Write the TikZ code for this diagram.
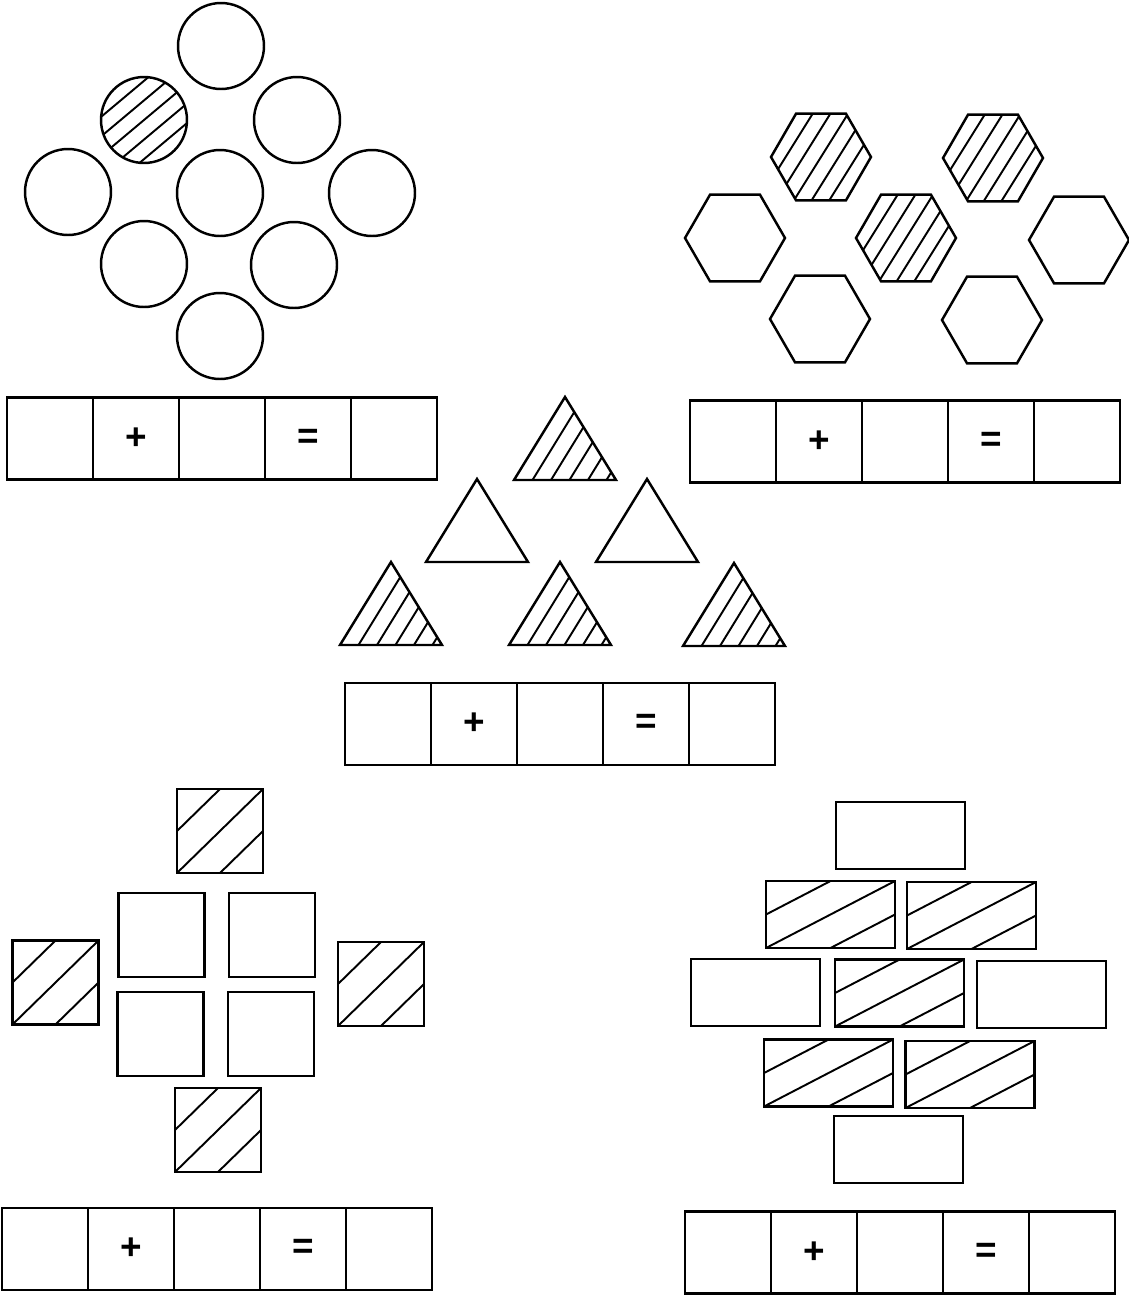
\documentclass[tikz,border=0pt]{standalone}
\usepackage{fontspec}
\setmainfont{Liberation Sans}
\usetikzlibrary{shapes.geometric}

% one answer row: name, left edge, middle height
\newcommand{\sumrow}[3]{%
  \foreach \k/\sym in {1/{},2/+,3/{},4/=,5/{}}
    \node[cell] (#1\k) at ({#2+(\k-0.5)*86},#3) {\sym};
}

\begin{document}
\begin{tikzpicture}[
  x=0.02cm, y=-0.02cm, line width=1.4pt,
  ring/.style={circle, draw, minimum size=1.72cm, inner sep=0pt},
  hexa/.style={regular polygon, regular polygon sides=6, draw, minimum size=2cm, inner sep=0pt},
  tile/.style={rectangle, draw, minimum width=1.72cm, minimum height=1.68cm, inner sep=0pt},
  brick/.style={rectangle, draw, minimum width=2.58cm, minimum height=1.34cm, inner sep=0pt},
  cell/.style={rectangle, draw, minimum width=1.72cm, minimum height=1.64cm, inner sep=0pt, font=\fontsize{21}{25}\selectfont\bfseries},
  hatchline/.style={line width=1.1pt},
  hatchring/.style={path picture={
    \foreach \o in {-2,...,2}
      \draw[hatchline] ([shift={(130:\o*0.3cm)}]path picture bounding box.center) ++(220:1.2cm) -- ++(40:2.4cm);}},
  hatchhexa/.style={path picture={
    \foreach \o in {-4,...,4}
      \draw[hatchline] ([shift={(148:\o*0.3cm)}]path picture bounding box.center) ++(238:1.5cm) -- ++(58:3cm);}},
  hatchbox/.style={path picture={
    \draw[hatchline] (path picture bounding box.south west) -- (path picture bounding box.north east);
    \draw[hatchline] (path picture bounding box.west) -- (path picture bounding box.north);
    \draw[hatchline] (path picture bounding box.south) -- (path picture bounding box.east);}},
  triplain/.style={draw},
  trihatch/.style={draw, path picture={
    \foreach \k in {1,...,5}
      \draw[hatchline] ([xshift=\k*0.37cm]path picture bounding box.south west) -- ++(58.4:2cm);}}
]
  \useasboundingbox (0,0) rectangle (1129,1299);

  % circles
  \node[ring] (c1) at (221,46) {};
  \node[ring, hatchring] (c2) at (144,120) {};
  \node[ring] (c3) at (297,120) {};
  \node[ring] (c4) at (68,192) {};
  \node[ring] (c5) at (220,193) {};
  \node[ring] (c6) at (372,193) {};
  \node[ring] (c7) at (144,264) {};
  \node[ring] (c8) at (294,265) {};
  \node[ring] (c9) at (220,336) {};
  \sumrow{ra}{7}{438.5}

  % hexagons
  \node[hexa, hatchhexa] (h1) at (821,157) {};
  \node[hexa, hatchhexa] (h2) at (993,158) {};
  \node[hexa] (h3) at (735,238) {};
  \node[hexa, hatchhexa] (h4) at (906,238) {};
  \node[hexa] (h5) at (1079,240) {};
  \node[hexa] (h6) at (820,319) {};
  \node[hexa] (h7) at (992,320) {};
  \sumrow{rb}{690}{441.5}

  % triangles
  \foreach \x/\y/\s in {565/397/trihatch, 477/479/triplain, 647/479/triplain,
                        391/562/trihatch, 560/562/trihatch, 734/563/trihatch}
    \path[\s] (\x,\y) -- ++(-51,83) -- ++(102,0) -- cycle;
  \sumrow{rc}{345}{724}

  % squares
  \node[tile, hatchbox] (s1) at (220,831) {};
  \node[tile] (s2) at (161.5,935) {};
  \node[tile] (s3) at (272,935) {};
  \node[tile, hatchbox] (s4) at (55.5,982.5) {};
  \node[tile, hatchbox] (s5) at (381,984) {};
  \node[tile] (s6) at (160.5,1034) {};
  \node[tile] (s7) at (271,1034) {};
  \node[tile, hatchbox] (s8) at (218,1130) {};
  \sumrow{rd}{2}{1249}

  % bricks
  \node[brick] (b1) at (900.5,835.5) {};
  \node[brick, hatchbox] (b2) at (830.5,914.5) {};
  \node[brick, hatchbox] (b3) at (971.5,915.5) {};
  \node[brick] (b4) at (755.5,992.5) {};
  \node[brick, hatchbox] (b5) at (899.5,993) {};
  \node[brick] (b6) at (1041.5,994.5) {};
  \node[brick, hatchbox] (b7) at (828.5,1073) {};
  \node[brick, hatchbox] (b8) at (970,1074.5) {};
  \node[brick] (b9) at (898.5,1149.5) {};
  \sumrow{re}{685}{1252.5}
\end{tikzpicture}
\end{document}
